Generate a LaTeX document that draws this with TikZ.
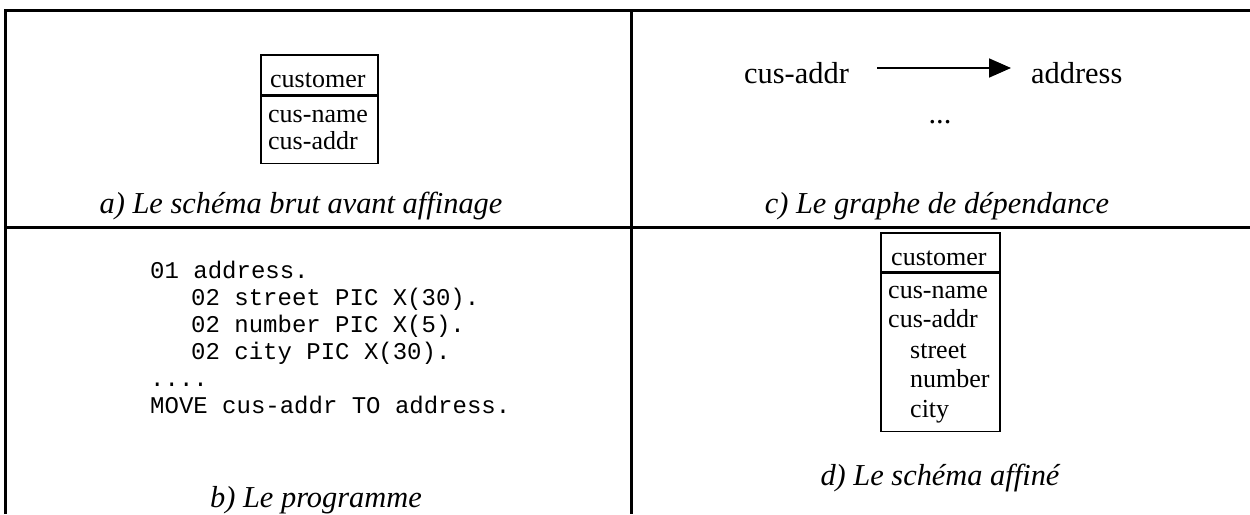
\documentclass[tikz,border=0pt]{standalone}
\usepackage{fontspec}
\setmainfont{Liberation Serif}
\setmonofont{Liberation Mono}
\usepackage{xcolor}
\usepackage{tikz}
\usetikzlibrary{positioning}
\usetikzlibrary{arrows.meta}
\tikzset{edge/.style = {-{Triangle[length=22pt,width=19pt]}, line width=1.8pt}}

\begin{document}
\begin{tikzpicture}[x=1pt,y=-1pt,inner sep=0pt,
    frame line/.style={line width=3pt},
    entity node/.style={draw,line width=1.5pt,minimum width=#1,inner sep=0pt},
    field node/.style={font=\fontsize{26}{28}\selectfont,anchor=base west},
    code node/.style={font=\ttfamily\fontsize{24}{28}\selectfont,anchor=base west},
    dep node/.style={font=\fontsize{30.4}{34}\selectfont,anchor=base west},
    caption node/.style={font=\fontsize{30.4}{34}\selectfont\itshape,anchor=base}]
                \useasboundingbox (0,0) rectangle (1250,514);

                % the frame
                \draw[frame line] (5,514) -- (5,10) -- (1250,10);
                \draw[frame line] (631,10) -- (631,514);
                \draw[frame line] (5,227) -- (1250,227);

                % a) raw schema
                \node[entity node=117pt, minimum height=40pt, anchor=north west] (ha) at (260,54) {};
                \node[entity node=117pt, minimum height=67pt, anchor=north] (ba) at (ha.south) {};
                \node[field node] (a0) at (270,87) {customer};
                \node[field node] (a1) at (268,122) {cus-name};
                \node[field node] (a2) at ([yshift=-27pt]a1.base west) {cus-addr};
                \node[caption node] (capa) at (301,213) {a) Le schéma brut avant affinage};

                % b) program
                \node[code node] (p1) at (150,278) {01 address.};
                \node[code node] (p2) at ([xshift=41pt,yshift=-27pt]p1.base west) {02 street PIC X(30).};
                \node[code node] (p3) at ([yshift=-27pt]p2.base west) {02 number PIC X(5).};
                \node[code node] (p4) at ([yshift=-27pt]p3.base west) {02 city PIC X(30).};
                \node[code node] (p5) at ([xshift=-41pt,yshift=-27pt]p4.base west) {....};
                \node[code node] (p6) at ([yshift=-27pt]p5.base west) {MOVE cus-addr TO address.};
                \node[caption node] (capb) at (316,507) {b) Le programme};

                % c) dependency graph
                \node[dep node] (src) at (744,83) {cus-addr};
                \node[dep node] (dst) at (1031,83) {address};
                \node[dep node, anchor=base] (more) at (940,123) {...};
                \draw[edge] ([xshift=28pt,yshift=15pt]src.base east) -- ([xshift=-20pt,yshift=15pt]dst.base west);
                \node[caption node] (capc) at (937,213) {c) Le graphe de dépendance};

                % d) refined schema
                \node[entity node=119pt, minimum height=39pt, anchor=north west] (hd) at (880,232) {};
                \node[entity node=119pt, minimum height=158pt, anchor=north] (bd) at (hd.south) {};
                \node[field node] (d0) at (891,265) {customer};
                \node[field node] (d1) at (888,298) {cus-name};
                \node[field node] (d2) at ([yshift=-29.5pt]d1.base west) {cus-addr};
                \node[field node] (d3) at (910,358) {street};
                \node[field node] (d4) at ([yshift=-29.5pt]d3.base west) {number};
                \node[field node] (d5) at ([yshift=-29.5pt]d4.base west) {city};
                \node[caption node] (capd) at (940,485) {d) Le schéma affiné};
\end{tikzpicture}
\end{document}
